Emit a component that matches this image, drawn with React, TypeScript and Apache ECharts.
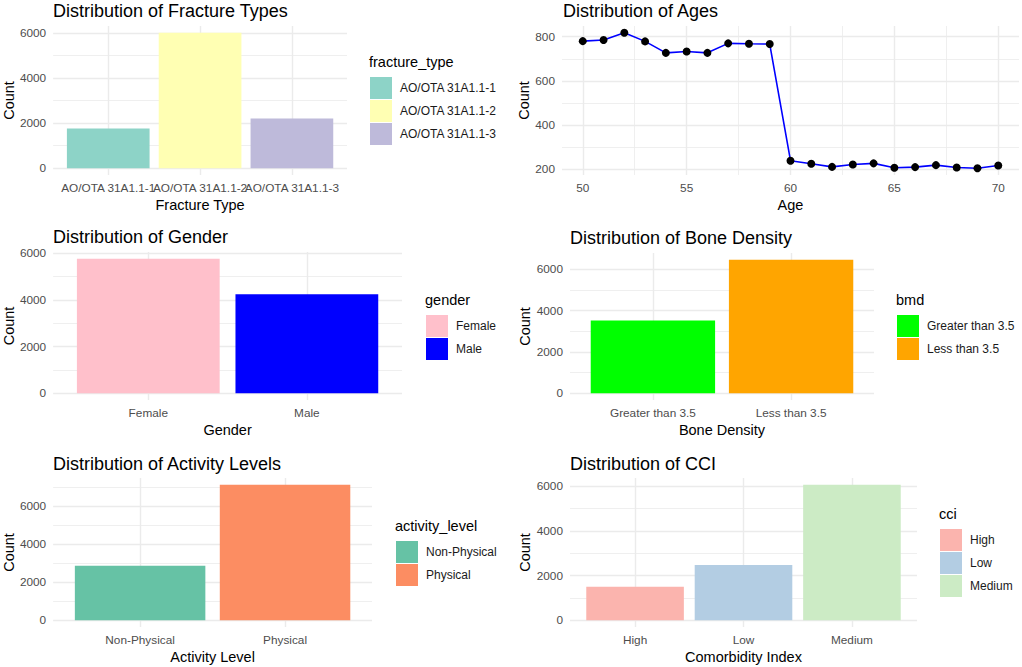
import React, { useEffect, useRef } from "react";
import * as echarts from "echarts";

// ---- Data ----
const fractureTypes = ["AO/OTA 31A1.1-1", "AO/OTA 31A1.1-2", "AO/OTA 31A1.1-3"];
const fractureCounts = [1770, 6020, 2210];
const fractureColors = ["#8DD3C7", "#FFFFB3", "#BEBADA"];

const ages = [50, 51, 52, 53, 54, 55, 56, 57, 58, 59, 60, 61, 62, 63, 64, 65, 66, 67, 68, 69, 70];
const ageCounts = [780, 785, 818, 779, 727, 733, 727, 770, 768, 767, 238, 224, 210, 221, 226, 206, 209, 218, 207, 204, 216];
const ageTicks = [50, 55, 60, 65, 70];
const ageMinorTicks = [52.5, 57.5, 62.5, 67.5];
const ageCountTicks = [200, 400, 600, 800];
const ageCountMinorTicks = [300, 500, 700];

const genders = ["Female", "Male"];
const genderCounts = [5760, 4240];
const genderColors = ["#FFC0CB", "#0000FF"];

const bmdLevels = ["Greater than 3.5", "Less than 3.5"];
const bmdCounts = [3530, 6470];
const bmdColors = ["#00FF00", "#FFA500"];

const activityLevels = ["Non-Physical", "Physical"];
const activityCounts = [2870, 7130];
const activityColors = ["#66C2A5", "#FC8D62"];

const cciLevels = ["High", "Low", "Medium"];
const cciCounts = [1500, 2470, 6060];
const cciColors = ["#FBB4AE", "#B3CDE3", "#CCEBC5"];

const countTicks = [0, 2000, 4000, 6000];
const countMinorTicks = [1000, 3000, 5000, 7000];

// ---- Styles ----
const FONT = "'Liberation Sans', Arial, sans-serif";
const GRID_MAJOR = "#EBEBEB";
const TICK_COLOR = "#4D4D4D";

type BarPanel = {
  key: string;
  title: string;
  xName: string;
  legendTitle: string;
  cats: string[];
  counts: number[];
  colors: string[];
  grid: { left: number; top: number; width: number; height: number };
  legend: { left: number; top: number };
  titleTop: number;
};

const barPanels: BarPanel[] = [
  {
    key: "p1", title: "Distribution of Fracture Types", xName: "Fracture Type", legendTitle: "fracture_type",
    cats: fractureTypes, counts: fractureCounts, colors: fractureColors,
    grid: { left: 53, top: 26, width: 294, height: 149 }, legend: { left: 370, top: 77 }, titleTop: 2,
  },
  {
    key: "p3", title: "Distribution of Gender", xName: "Gender", legendTitle: "gender",
    cats: genders, counts: genderCounts, colors: genderColors,
    grid: { left: 53, top: 252, width: 349, height: 148 }, legend: { left: 426, top: 315 }, titleTop: 228,
  },
  {
    key: "p4", title: "Distribution of Bone Density", xName: "Bone Density", legendTitle: "bmd",
    cats: bmdLevels, counts: bmdCounts, colors: bmdColors,
    grid: { left: 570, top: 253, width: 304, height: 147 }, legend: { left: 897, top: 315 }, titleTop: 229,
  },
  {
    key: "p5", title: "Distribution of Activity Levels", xName: "Activity Level", legendTitle: "activity_level",
    cats: activityLevels, counts: activityCounts, colors: activityColors,
    grid: { left: 53, top: 478, width: 319, height: 149 }, legend: { left: 396, top: 541 }, titleTop: 455,
  },
  {
    key: "p6", title: "Distribution of CCI", xName: "Comorbidity Index", legendTitle: "cci",
    cats: cciLevels, counts: cciCounts, colors: cciColors,
    grid: { left: 570, top: 478, width: 347, height: 149 }, legend: { left: 940, top: 529 }, titleTop: 455,
  },
];

const ageGrid = { left: 562, top: 26, width: 457, height: 149 };

function buildOption() {
  const grids: any[] = [];
  const xAxes: any[] = [];
  const yAxes: any[] = [];
  const series: any[] = [];
  const titles: any[] = [];
  const legends: any[] = [];

  const titleStyle = { fontSize: 18, fontWeight: "normal", color: "#000", fontFamily: FONT };
  const legendTitleStyle = { fontSize: 14.5, fontWeight: "normal", color: "#000", fontFamily: FONT };
  const axisNameStyle = { fontSize: 14.5, color: "#000", fontFamily: FONT };
  const tickLabelStyle = { fontSize: 11.8, color: TICK_COLOR, fontFamily: FONT };

  const majorLine = { show: true, lineStyle: { color: GRID_MAJOR, width: 1.4 } };
  const minorLine = { show: true, lineStyle: { color: GRID_MAJOR, width: 0.8 } };

  const addYAxes = (gi: number, min: number, max: number, major: number[], minor: number[], yNameGap: number) => {
    const yi = yAxes.length;
    yAxes.push({
      type: "value", gridIndex: gi, position: "left", min, max,
      axisLine: { show: false },
      axisTick: { show: false, customValues: major },
      axisLabel: {
        ...tickLabelStyle, margin: 7, customValues: major,
        showMinLabel: true, showMaxLabel: true,
        formatter: (v: number) => String(v),
      },
      splitLine: majorLine,
      name: "Count", nameLocation: "middle", nameGap: yNameGap, nameRotate: 90,
      nameTextStyle: axisNameStyle,
    });
    yAxes.push({
      type: "value", gridIndex: gi, position: "left", min, max,
      axisLine: { show: false },
      axisTick: { show: false, customValues: minor.filter((v) => v > min && v < max) },
      axisLabel: { show: false },
      splitLine: minorLine,
    });
    return yi;
  };

  // Bar panels
  barPanels.forEach((p) => {
    const gi = grids.length;
    grids.push({ ...p.grid });
    const n = p.cats.length;
    const idx = p.cats.map((_, i) => i + 1);
    const xi = xAxes.length;
    // main x axis: gridlines + axis title
    xAxes.push({
      type: "value", gridIndex: gi, position: "bottom", min: 0.4, max: n + 0.6,
      axisLine: { show: false },
      axisTick: { show: false, customValues: idx },
      axisLabel: { show: false },
      splitLine: majorLine,
      name: p.xName, nameLocation: "middle", nameGap: 22, nameTextStyle: axisNameStyle,
    });
    // one label axis per category so overlapping labels all stay visible
    p.cats.forEach((c, i) => {
      xAxes.push({
        type: "value", gridIndex: gi, position: "bottom", min: 0.4, max: n + 0.6,
        axisLine: { show: false },
        axisTick: { show: false, customValues: [i + 1] },
        axisLabel: {
          ...tickLabelStyle, margin: 7, customValues: [i + 1],
          showMinLabel: true, showMaxLabel: true,
          formatter: () => c,
        },
        splitLine: { show: false },
      });
    });
    const maxV = Math.max(...p.counts);
    const yi = addYAxes(gi, -0.05 * maxV, 1.05 * maxV, countTicks, countMinorTicks, p.grid.left > 500 ? 38 : 36);
    const barW = (0.9 * p.grid.width) / (n + 0.2);
    p.cats.forEach((c, i) => {
      series.push({
        type: "bar", name: c, xAxisIndex: xi, yAxisIndex: yi, stack: p.key,
        barWidth: barW, data: [[i + 1, p.counts[i]]],
        itemStyle: { color: p.colors[i] }, z: 3,
      });
    });
    titles.push({ text: p.title, left: p.grid.left, top: p.titleTop, padding: 0, textStyle: titleStyle });
    titles.push({ text: p.legendTitle, left: p.legend.left - 1, top: p.legend.top - 23, padding: 0, textStyle: legendTitleStyle });
    legends.push({
      data: p.cats, orient: "vertical", left: p.legend.left, top: p.legend.top, padding: 0,
      itemWidth: 22, itemHeight: 22, itemGap: 1, icon: "rect", selectedMode: false,
      textStyle: { fontSize: 12, color: "#1a1a1a", fontFamily: FONT, padding: [0, 0, 0, 3] },
    });
  });

  // Age panel
  {
    const gi = grids.length;
    grids.push({ ...ageGrid });
    const aMin = Math.min(...ages), aMax = Math.max(...ages);
    const aPad = 0.05 * (aMax - aMin);
    const xi = xAxes.length;
    xAxes.push({
      type: "value", gridIndex: gi, position: "bottom", min: aMin - aPad, max: aMax + aPad,
      axisLine: { show: false },
      axisTick: { show: false, customValues: ageTicks },
      axisLabel: { ...tickLabelStyle, margin: 7, customValues: ageTicks, showMinLabel: true, showMaxLabel: true },
      splitLine: majorLine,
      name: "Age", nameLocation: "middle", nameGap: 22, nameTextStyle: axisNameStyle,
    });
    xAxes.push({
      type: "value", gridIndex: gi, position: "bottom", min: aMin - aPad, max: aMax + aPad,
      axisLine: { show: false },
      axisTick: { show: false, customValues: ageMinorTicks },
      axisLabel: { show: false },
      splitLine: minorLine,
    });
    const cMin = Math.min(...ageCounts), cMax = Math.max(...ageCounts);
    const cPad = 0.05 * (cMax - cMin);
    const yi = addYAxes(gi, cMin - cPad, cMax + cPad, ageCountTicks, ageCountMinorTicks, 30);
    series.push({
      type: "line", name: "age", xAxisIndex: xi, yAxisIndex: yi,
      data: ages.map((a, i) => [a, ageCounts[i]]),
      lineStyle: { color: "#0000FF", width: 1.6 },
      itemStyle: { color: "#000" },
      symbol: "circle", symbolSize: 8, showSymbol: true, z: 3,
    });
    titles.push({ text: "Distribution of Ages", left: ageGrid.left + 1, top: 2, padding: 0, textStyle: titleStyle });
  }

  return {
    animation: false,
    backgroundColor: "#fff",
    title: titles,
    legend: legends,
    grid: grids,
    xAxis: xAxes,
    yAxis: yAxes,
    series,
  };
}

export default function App() {
  const ref = useRef<HTMLDivElement>(null);
  useEffect(() => {
    if (!ref.current) return;
    const chart = echarts.init(ref.current, undefined, { renderer: "svg" });
    chart.setOption(buildOption() as any);
    return () => chart.dispose();
  }, []);
  return (
    <div
      ref={ref}
      style={{ position: "fixed", left: 0, top: 0, width: 1022, height: 667, background: "#fff" }}
    />
  );
}
